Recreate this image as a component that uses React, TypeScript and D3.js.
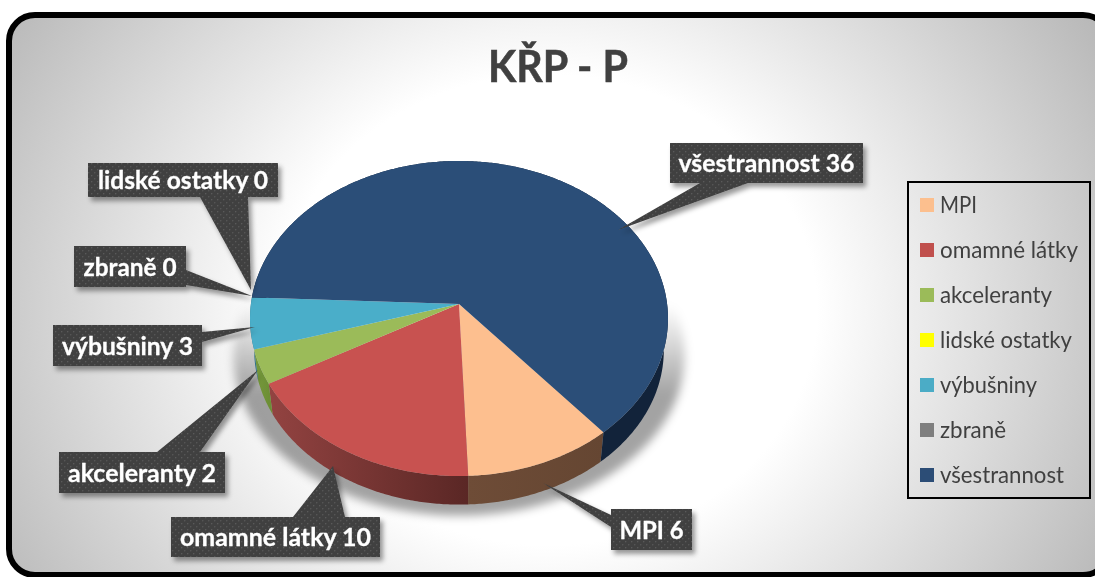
import React from "react";
import * as d3 from "d3";

const categories = ["MPI", "omamné látky", "akceleranty", "lidské ostatky", "výbušniny", "zbraně", "všestrannost"];
const values = [6, 10, 2, 0, 3, 0, 36];
const topColors = ["#fdbf8f", "#c85250", "#9bbb59", "#ffff00", "#4aaec9", "#7f7f7f", "#2b4e78"];
const legendColors = ["#fcbf8e", "#c0504d", "#9bbb59", "#ffff00", "#4bacc6", "#7f7f7f", "#2c4d76"];
const sideStart = ["#6e4c37", "#934341", "#779a3c", "#999900", "#2c7186", "#555555", "#12233a"];
const sideEnd = ["#654632", "#5a2725", "#6d8f36", "#999900", "#2c7186", "#555555", "#12233a"];
const title = "KŘP - P";

// label layout, in the order of categories
const labelBoxes = [
  { x: 611, y: 509, w: 81, h: 41, base: [[611, 515], [611, 527]], tip: [543, 483], tw: 64 },
  { x: 171, y: 517, w: 209, h: 40, base: [[293, 517], [345, 517]], tip: [333, 466], tw: 191 },
  { x: 59, y: 452, w: 166, h: 41, base: [[157, 452], [200, 452]], tip: [258, 370], tw: 148 },
  { x: 88, y: 163, w: 190, h: 34, base: [[200, 197], [248, 197]], tip: [251, 290], tw: 170 },
  { x: 53, y: 325, w: 149, h: 41, base: [[202, 332], [202, 342]], tip: [255, 327], tw: 131 },
  { x: 74, y: 246, w: 112, h: 41, base: [[186, 270], [186, 285]], tip: [252, 296], tw: 93 },
  { x: 670, y: 143, w: 193, h: 40, base: [[700, 183], [748, 183]], tip: [618, 230], tw: 176 },
];
const legendWidths = [37, 138, 112, 132, 97, 66, 124];

const W = 1095, H = 577;
const apexX = 459, apexY = 304;
const R = 208.1, YS = 156.2, PERSP = -0.092;
const DEPTH = 32, BOTTOM_SCALE = 0.98;
const SHADOW_DROP = 37, SHADOW_SX = 1.08, SHADOW_SY = 1.015;
const START = (139.8 * Math.PI) / 180;

function project(t: number, z = 0, sx = z ? BOTTOM_SCALE : 1, sy = sx, drop = z ? DEPTH : 0): [number, number] {
  const u = Math.sin(t), v = -Math.cos(t);
  const d = 1 + PERSP * v;
  return [apexX + (sx * R * u) / d, apexY + drop + (sy * YS * v) / d];
}
const line = d3.line();
const samples = (a: number, b: number) => {
  const n = Math.max(2, Math.ceil((b - a) / 0.01));
  return d3.range(n + 1).map((i) => a + ((b - a) * i) / n);
};

const FONT = "Lato, 'Open Sans', sans-serif";

export default function App() {
  const arcs = d3.pie<number>().sort(null).startAngle(START).endAngle(START + 2 * Math.PI)(values);
  const legendY = d3.scalePoint<string>().domain(categories).range([205, 475]);
  const shadow = line(samples(0, 2 * Math.PI).map((t) => project(t, 1, SHADOW_SX, SHADOW_SY, SHADOW_DROP))) + "Z";
  return (
    <svg width={W} height={H} viewBox={`0 0 ${W} ${H}`} style={{ position: "fixed", left: 0, top: 0, display: "block" }}>
      <defs>
        <radialGradient id="bg" gradientUnits="userSpaceOnUse" cx={0} cy={0} r={1}
          gradientTransform="translate(548,310) scale(640,560)">
          <stop offset="0" stopColor="#ffffff" />
          <stop offset="0.42" stopColor="#ffffff" />
          <stop offset="1" stopColor="#b8b8b8" />
        </radialGradient>
        <linearGradient id="shadowFill" gradientUnits="userSpaceOnUse" x1={0} x2={0} y1={305} y2={395}>
          <stop offset="0" stopColor="#000" stopOpacity={0} />
          <stop offset="1" stopColor="#000" stopOpacity={0.36} />
        </linearGradient>
        <pattern id="dots" width="6" height="6" patternUnits="userSpaceOnUse">
          <rect width="6" height="6" fill="#3f3f3f" />
          <rect x="1" y="1" width="1.4" height="1.4" fill="#5a5a5a" />
          <rect x="4" y="4" width="1.4" height="1.4" fill="#555555" />
        </pattern>
        <filter id="labelShadow" x="-20%" y="-20%" width="140%" height="150%">
          <feDropShadow dx="3" dy="4" stdDeviation="2.5" floodColor="#000" floodOpacity="0.4" />
        </filter>
        <filter id="pieShadow" x="-20%" y="-20%" width="140%" height="140%">
          <feGaussianBlur stdDeviation="5" />
        </filter>
        {arcs.map((a, i) => (
          <linearGradient key={i} id={`side${i}`} gradientUnits="userSpaceOnUse"
            x1={project(a.endAngle)[0]} x2={project(a.startAngle)[0]} y1={0} y2={0}>
            <stop offset="0" stopColor={sideStart[i]} />
            <stop offset="1" stopColor={sideEnd[i]} />
          </linearGradient>
        ))}
      </defs>

      <rect x={9} y={15} width={1100} height={560} rx={26} ry={26} fill="url(#bg)" stroke="#000" strokeWidth={6} />

      <text x={558} y={81.5} textAnchor="middle" fontFamily={FONT} fontWeight={700} fontSize={43} fill="#404040"
        stroke="#404040" strokeWidth={0.5} textLength={140} lengthAdjust="spacingAndGlyphs">{title}</text>

      <path d={shadow} fill="url(#shadowFill)" filter="url(#pieShadow)" />

      {arcs.map((a, i) => {
        if (a.endAngle <= a.startAngle) return null;
        const ts = samples(a.startAngle, a.endAngle);
        const pts = [...ts.map((t) => project(t)), ...ts.slice().reverse().map((t) => project(t, 1))];
        return <path key={i} d={line(pts) + "Z"} fill={`url(#side${i})`} />;
      })}
      {arcs.map((a, i) => {
        if (a.endAngle <= a.startAngle) return null;
        const pts: [number, number][] = [[apexX, apexY], ...samples(a.startAngle, a.endAngle).map((t) => project(t))];
        return <path key={i} d={line(pts) + "Z"} fill={topColors[i]} />;
      })}

      {categories.map((c, i) => {
        const b = labelBoxes[i];
        const callout = line([b.base[0] as [number, number], b.tip as [number, number], b.base[1] as [number, number]]) as string;
        return (
          <g key={c} filter="url(#labelShadow)">
            <path d={`M${b.x},${b.y}h${b.w}v${b.h}h${-b.w}Z ${callout}Z`} fill="url(#dots)" />
            <text x={b.x + b.w / 2} y={b.y + b.h / 2 + 9} textAnchor="middle" fontFamily={FONT} fontWeight={700}
              fontSize={25} fill="#fff" stroke="#fff" strokeWidth={0.3} textLength={b.tw} lengthAdjust="spacingAndGlyphs">{`${c} ${values[i]}`}</text>
          </g>
        );
      })}

      <rect x={908} y={182} width={182} height={316} fill="none" stroke="#000" strokeWidth={2} />
      {categories.map((c, i) => (
        <g key={c}>
          <rect x={920} y={(legendY(c) as number) - 7} width={14} height={14} fill={legendColors[i]} />
          <text x={940} y={(legendY(c) as number) + 7.5} fontFamily={FONT} fontSize={23} fill="#404040"
            textLength={legendWidths[i]} lengthAdjust="spacingAndGlyphs">{c}</text>
        </g>
      ))}
    </svg>
  );
}
